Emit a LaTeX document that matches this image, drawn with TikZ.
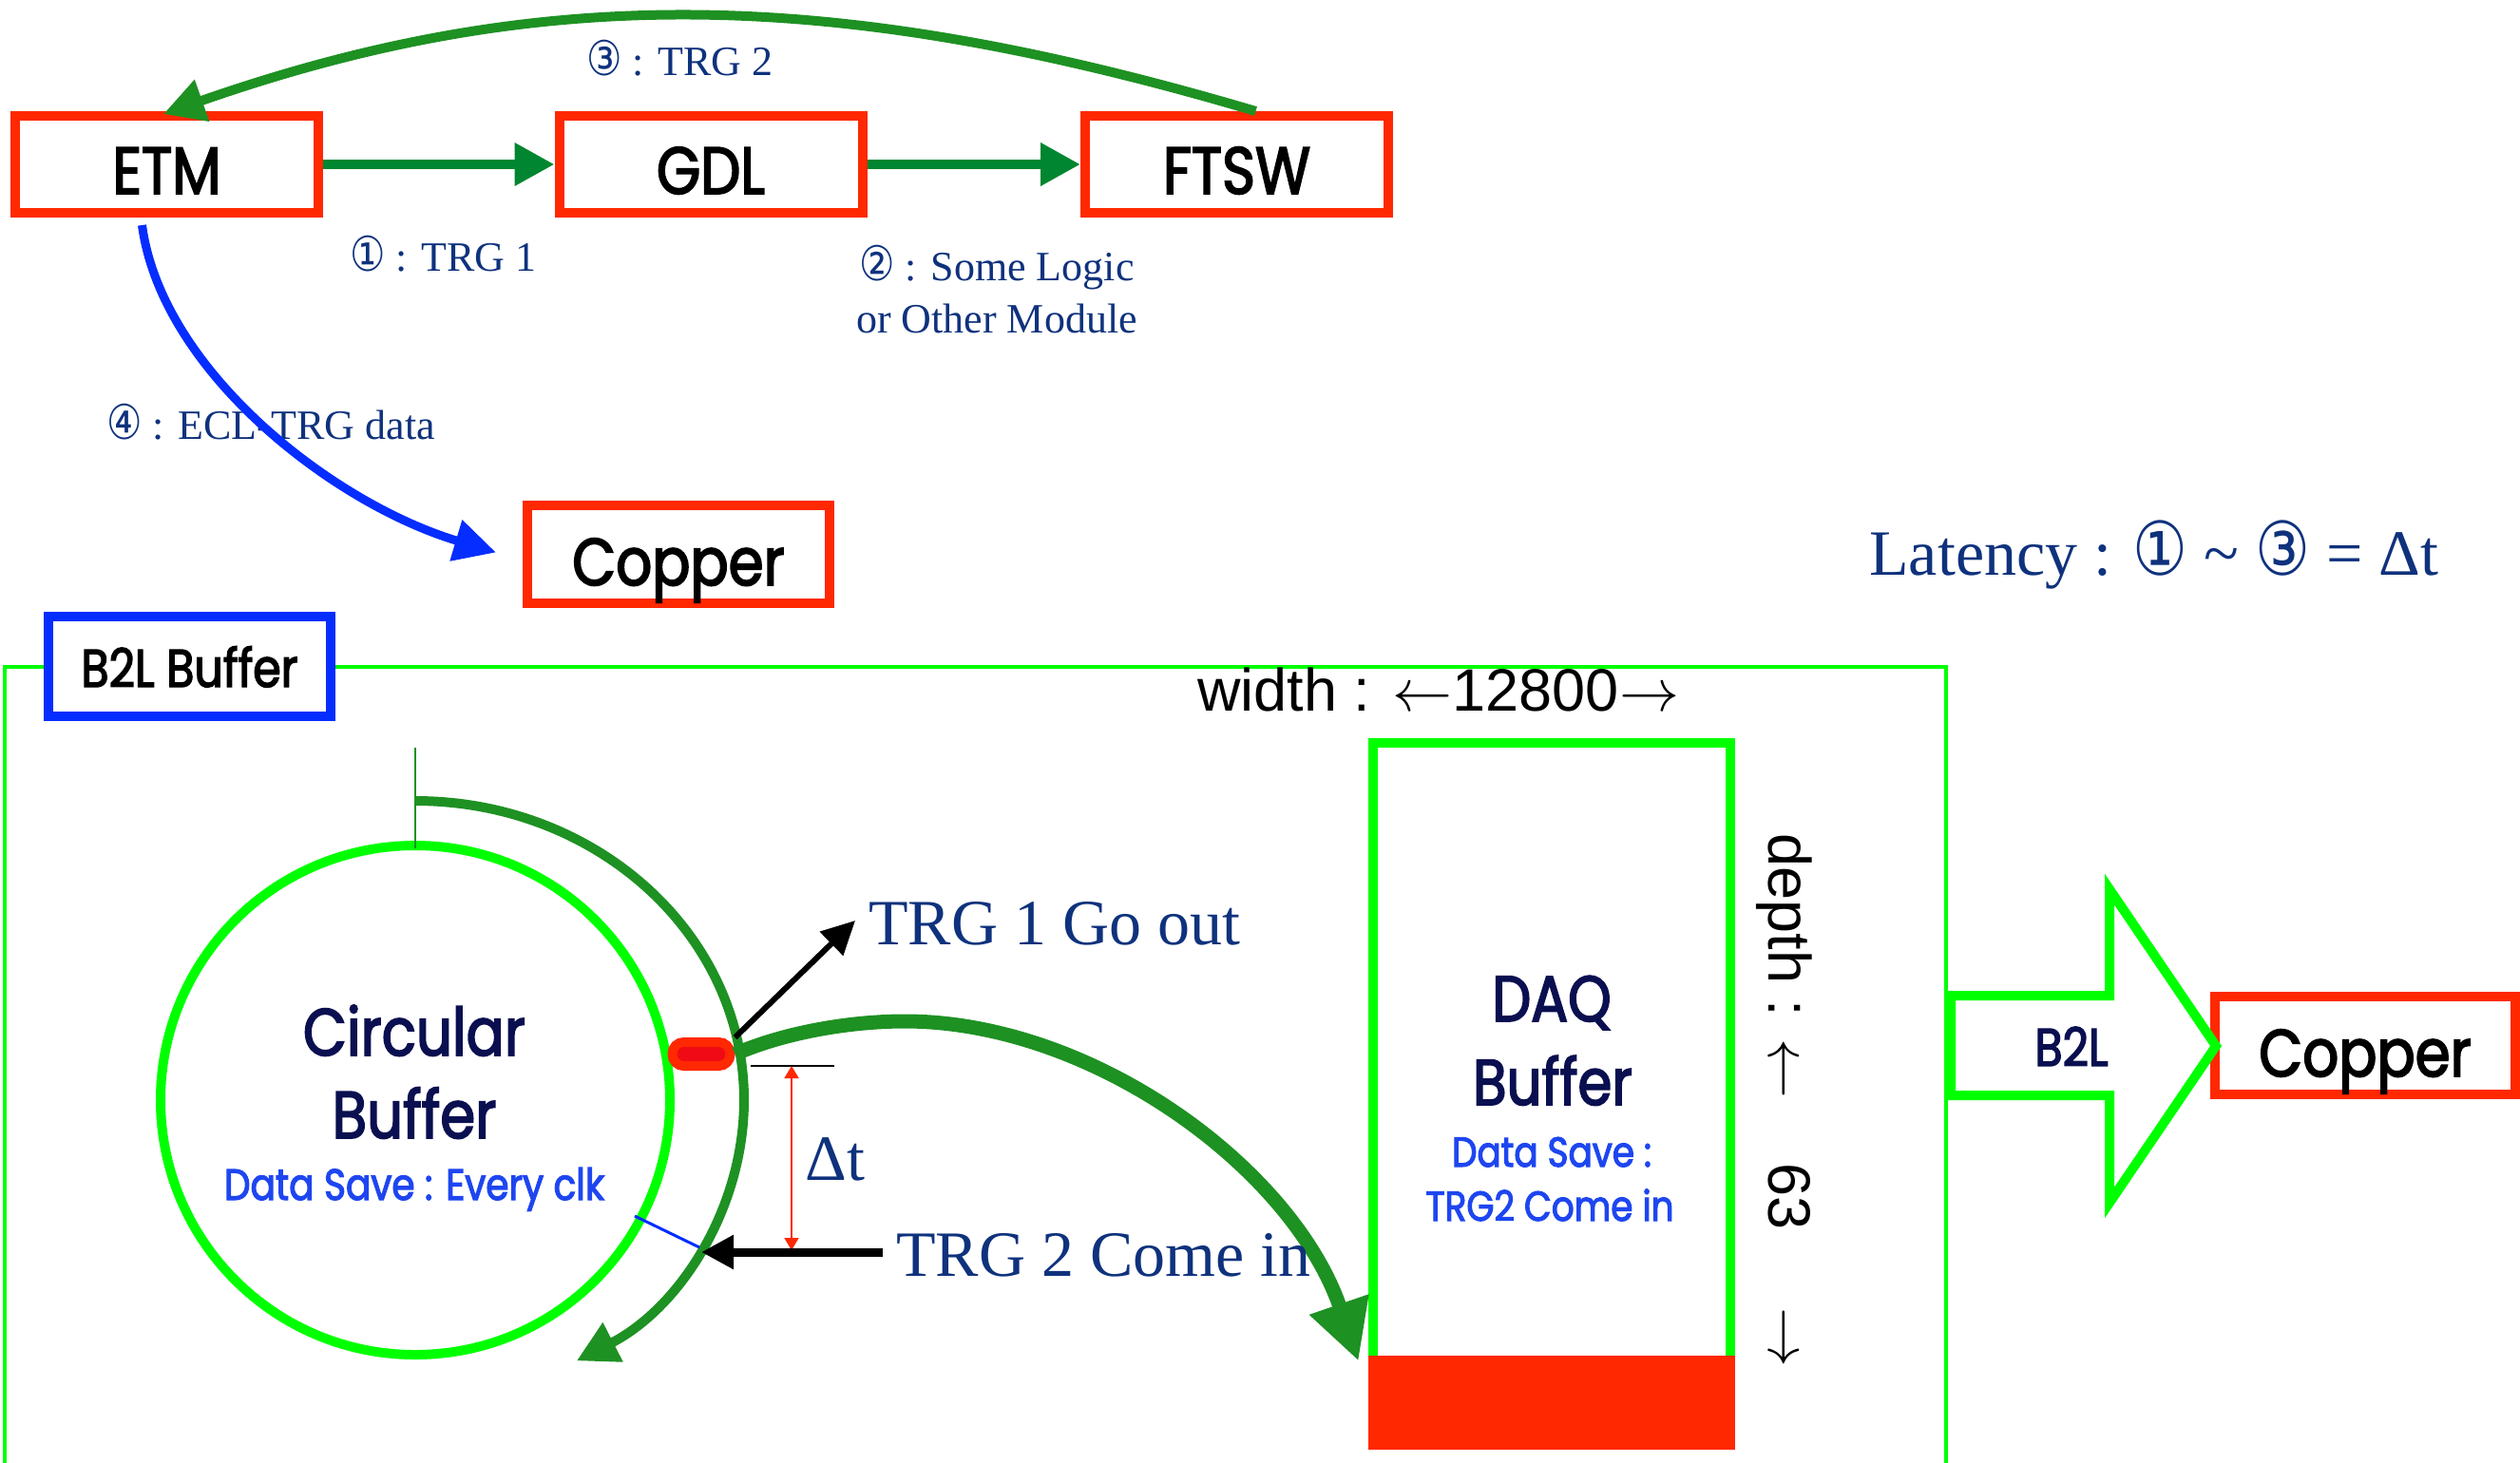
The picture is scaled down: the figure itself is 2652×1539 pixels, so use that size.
\RequirePackage{fix-cm}
\documentclass[tikz,border=0pt]{standalone}
\usepackage{graphicx}
\usepackage{fontspec}
\setmainfont{Liberation Serif}
\newfontfamily\futfont[FakeStretch=0.85, FakeBold=2.5]{Poppins}
\newfontfamily\arifont{Liberation Sans}
\newfontfamily\djfont{DejaVu Sans}
\usetikzlibrary{arrows.meta,calc}
\newcommand\cnum[1]{\scalebox{0.95}[1.15]{\djfont #1}}
\definecolor{boxred}{RGB}{255,40,0}
\definecolor{pillinner}{RGB}{240,10,22}
\definecolor{brightgreen}{RGB}{0,255,0}
\definecolor{curvegreen}{RGB}{30,145,35}
\definecolor{arrowgreen}{RGB}{0,134,48}
\definecolor{arrowblue}{RGB}{5,45,255}
\definecolor{labelblue}{RGB}{15,50,125}
\definecolor{navy}{RGB}{10,15,80}
\definecolor{datablue}{RGB}{30,70,240}
\begin{document}
\begin{tikzpicture}[x=0.5pt,y=-0.5pt,
  topbox/.style={draw=boxred, line width=5pt, fill=white, minimum width=159.5pt,
    minimum height=51pt, inner sep=0pt, font=\futfont\fontsize{35}{40}\selectfont,
    text height=31pt, text depth=0pt},
  lab/.style={inner sep=0pt, text=labelblue, font=\fontsize{22}{26}\selectfont},
  biglab/.style={inner sep=0pt, text=labelblue, font=\fontsize{34}{40}\selectfont},
  futlab/.style={inner sep=0pt, text=navy, font=\futfont\fontsize{35}{40}\selectfont},
  datalab/.style={inner sep=0pt, text=datablue, font=\futfont\fontsize{23}{28}\selectfont},
  sanslab/.style={inner sep=0pt, font=\arifont\fontsize{31.5}{36}\selectfont},
  bigtip/.style={-{Triangle[length=21.5pt,width=22pt]}}
]
\useasboundingbox (0,0) rectangle (2652,1539);

% ---------- top row ----------
\node[topbox] (etm) at (175.5,173) {ETM};
\node[topbox] (gdl) at (748,173) {GDL};
\node[topbox] (ftsw) at (1301.5,173) {FTSW};
\node[topbox, minimum width=159pt, minimum height=51.5pt, text height=32.5pt] (cu1) at (714,583.5) {Copper};

\draw[line width=5pt, arrowgreen, -{Triangle[length=21pt,width=21.5pt]}] (etm.east) -- (gdl.west);
\draw[line width=5pt, arrowgreen, -{Triangle[length=21pt,width=21.5pt]}] (gdl.east) -- (ftsw.west);
\draw[line width=5pt, curvegreen, bigtip] ($(ftsw.north)+(20,0)$) .. controls (882,-13) and (572,-20) .. ($(etm.north)+(-3.5,3)$);

\node[lab, anchor=base west] (l3) at (617,79) {\cnum{③} : TRG 2};
\node[lab, anchor=base west] (l1) at (368,285) {\cnum{①} : TRG 1};
\node[lab, anchor=base] (l2a) at (1049,295) {\cnum{②} : Some Logic};
\node[lab, anchor=base] (l2b) at (1049,350) {or Other Module};
\node[lab, anchor=base west] (l4) at (112,462) {\cnum{④} : ECL-TRG data};

\draw[line width=4.5pt, arrowblue, -{Triangle[length=22pt,width=21.5pt]}] ($(etm.south)+(-26,8)$) .. controls (170,390) and (350,530) .. ($(cu1.west)+(-28,-2)$);

\node[biglab, anchor=base west] (lat) at (1967,605) {Latency : \cnum{①} \char"007E\ \cnum{③} = Δt};

% ---------- B2L buffer ----------
\draw[brightgreen, line width=2pt] (5,1545) -- (5,702) -- (2048,702) -- (2048,1545);
\node[draw=arrowblue, line width=5pt, fill=white, minimum width=148.5pt, minimum height=52.5pt,
  inner sep=0pt, font=\futfont\fontsize{28}{32}\selectfont, text height=21.5pt, text depth=0pt] (bbuf) at (199.5,701.5) {B2L Buffer};
\node[sanslab, anchor=base west] (wd) at (1260,748) {width : $\leftarrow$12800$\rightarrow$};

% circular buffer
\node[circle, draw=brightgreen, line width=5pt, minimum size=268pt, inner sep=0pt] (cb) at (437,1158) {};
\draw[curvegreen, line width=1pt] (437,787) -- (437,893);
\draw[curvegreen, line width=5pt, bigtip] (437,843) arc[start angle=-90, end angle=60.6, x radius=346, y radius=315];
\node[futlab, anchor=base] (cbt1) at (436,1111) {Circular};
\node[futlab, anchor=base] (cbt2) at (436,1198) {Buffer};
\node[datalab, anchor=base] (cbt3) at (436,1263) {Data Save : Every clk};

% DAQ buffer
\node[draw=brightgreen, line width=5pt, minimum width=188pt, minimum height=329pt, inner sep=0pt] (daq) at (1633,1111) {};
\node[fill=boxred, minimum width=193pt, minimum height=49.5pt, inner sep=0pt] (daqred) at (1633,1476.5) {};
\node[futlab, font=\futfont\fontsize{34}{40}\selectfont, anchor=base] (dq1) at (1633,1075) {DAQ};
\node[futlab, font=\futfont\fontsize{34}{40}\selectfont, anchor=base] (dq2) at (1634,1163) {Buffer};
\node[datalab, font=\futfont\fontsize{22}{26}\selectfont, anchor=base] (dq3) at (1633,1228) {Data Save :};
\node[datalab, font=\futfont\fontsize{22}{26}\selectfont, anchor=base] (dq4) at (1631,1285) {TRG2 Come in};
\node[sanslab, rotate=-90, anchor=base west] (dp) at (1861,877) {depth : $\leftarrow$\hspace{34pt}63\hspace{41pt}$\rightarrow$};

% pill and arrows
\node[draw=boxred, fill=pillinner, line width=5pt, rounded corners=6pt, minimum width=30.5pt,
  minimum height=12.5pt, inner sep=0pt] (pill) at (738,1109.5) {};
\coordinate (tg1tip) at (900,969);
\draw[line width=3pt, -{Triangle[length=17.5pt,width=17pt]}] (pill.north east) -- (tg1tip);
\node[biglab, anchor=base west] (tg1) at (914,994) {TRG 1 Go out};

\draw[curvegreen, line width=7.5pt, -{Triangle[length=31.5pt,width=31pt]}] (pill.east) .. controls (830,1085) and (900,1075) .. (952,1075) .. controls (1150,1075) and (1360,1230) .. ($(daqred.north west)+(-10,6)$);

\coordinate (dt1) at (833,1122);
\coordinate (dt2) at (833,1316);
\draw[line width=1pt] (790,1122) -- (878,1122);
\draw[boxred, line width=1pt, {Triangle[length=6.5pt,width=7.5pt]}-{Triangle[length=6.5pt,width=7.5pt]}] (dt1) -- (dt2);
\node[biglab, anchor=base west] (dtl) at (847,1242) {Δt};

\coordinate (tg2start) at (929,1318);
\coordinate (tg2tip) at (738,1318);
\draw[line width=4.5pt, -{Triangle[length=17pt,width=17pt]}] (tg2start) -- (tg2tip);
\node[biglab, anchor=base west] (tg2) at (943,1343) {TRG 2 Come in};
\draw[arrowblue, line width=1.5pt] (668,1280) -- (736,1313);

% B2L arrow and Copper
\node[topbox, minimum width=158pt, minimum height=51.5pt, text height=32.5pt] (cu2) at (2489,1100.5) {Copper};
\draw[brightgreen, line width=5pt, line join=miter, miter limit=10] (2053,1048) -- (2220,1048) -- (2220,936) -- (2332,1101) -- (2220,1266) -- (2220,1153) -- (2053,1153) -- cycle;
\node[futlab, font=\futfont\fontsize{28}{32}\selectfont, anchor=base] (b2l) at (2180,1122) {B2L};
\end{tikzpicture}
\end{document}
